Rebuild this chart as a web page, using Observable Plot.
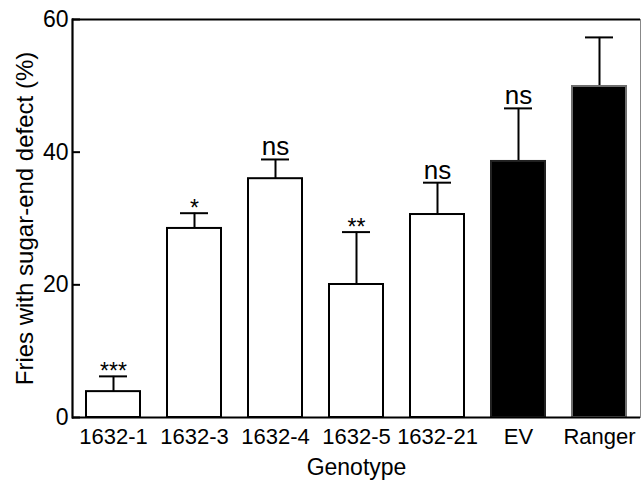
<!DOCTYPE html>
<html>
<head>
<meta charset="utf-8">
<script src="https://cdn.jsdelivr.net/npm/d3@7"></script>
<script src="https://cdn.jsdelivr.net/npm/@observablehq/plot@0.6"></script>
<style>
  html, body { margin: 0; padding: 0; background: white; }
  svg { display: block; }
</style>
</head>
<body>
<div id="chart"></div>
<script>
const genotypes = ["1632-1", "1632-3", "1632-4", "1632-5", "1632-21", "EV", "Ranger"];
const means = [3.9, 28.5, 36.0, 20.05, 30.6, 38.6, 49.9];
const errors = [2.3, 2.3, 2.9, 7.9, 4.8, 8.0, 7.4];
const significance = ["***", "*", "ns", "**", "ns", "ns", ""];
const fills = ["white", "white", "white", "white", "white", "black", "black"];
const strokes = ["black", "black", "black", "black", "black", "#222", "#6e6e6e"];
const yTicks = [0, 20, 40, 60];
const xTitle = "Genotype";
const yTitle = "Fries with sugar-end defect (%)";

const data = genotypes.map((g, i) => ({
  g, v: means[i], top: means[i] + errors[i], sig: significance[i], fill: fills[i], stroke: strokes[i]
}));

const font = "'Liberation Sans', Arial, Helvetica, sans-serif";

const chart = Plot.plot({
  width: 641,
  height: 482,
  marginLeft: 72,
  marginRight: 1,
  marginTop: 19,
  marginBottom: 65,
  style: { fontFamily: font, fontSize: "21px", color: "black", background: "white" },
  x: { domain: genotypes, paddingInner: 0.336, paddingOuter: 0.17 },
  y: { domain: [0, 60] },
  marks: [
    Plot.ruleX(data, { x: "g", y1: "v", y2: "top", stroke: "black", strokeWidth: 2 }),
    Plot.tickY(data, { x: "g", y: "top", stroke: "black", strokeWidth: 2, insetLeft: 13, insetRight: 13 }),
    Plot.barY(data, { x: "g", y: "v", fill: "fill", stroke: "stroke", strokeWidth: 2 }),
    Plot.text(data.filter(d => d.sig === "ns"), { x: "g", y: "top", text: "sig", lineAnchor: "bottom", dy: -4, fontSize: 26 }),
    Plot.text(data.filter(d => d.sig.startsWith("*")), { x: "g", y: "top", text: "sig", lineAnchor: "bottom", dy: 3, fontSize: 23 }),
    Plot.ruleY(yTicks, { y: d => d, insetRight: 560, stroke: "black", strokeWidth: 2 }),
    Plot.frame({ anchor: "right", stroke: "#888", strokeWidth: 1 }),
    Plot.frame({ anchor: "left", stroke: "black", strokeWidth: 2.2 }),
    Plot.ruleY([0], { stroke: "black", strokeWidth: 2.2 }),
    Plot.ruleY([60], { stroke: "black", strokeWidth: 2.2 }),
    Plot.axisY({ ticks: yTicks, tickSize: 0, tickPadding: 4, fontSize: 23, label: null }),
    Plot.axisX({ tickSize: 0, tickPadding: 11, fontSize: 22, label: null }),
    Plot.text([yTitle], { frameAnchor: "left", textAnchor: "middle", rotate: -90, dx: -40, lineAnchor: "bottom", fontSize: 24 }),
    Plot.text([xTitle], { frameAnchor: "bottom", dy: 57, lineAnchor: "bottom", fontSize: 23 })
  ]
});

document.getElementById("chart").appendChild(chart);
</script>
</body>
</html>
